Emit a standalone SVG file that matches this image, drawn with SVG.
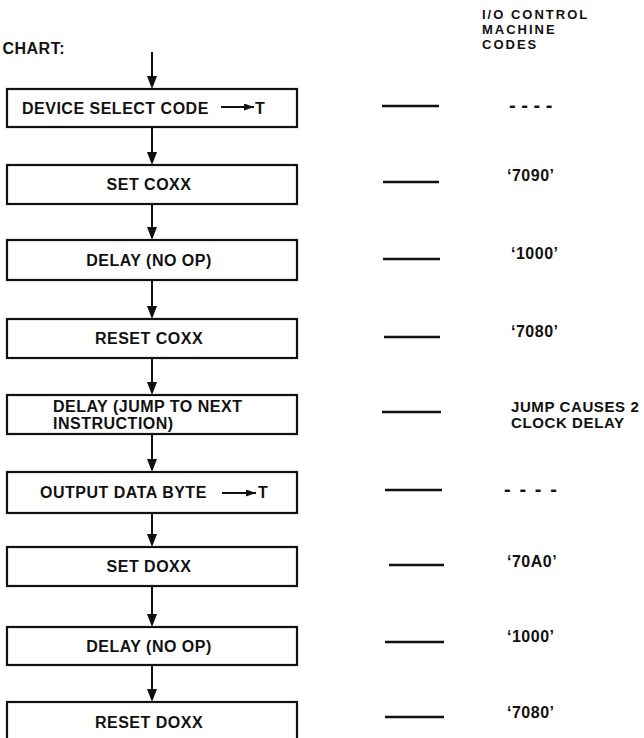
<svg xmlns="http://www.w3.org/2000/svg" width="644" height="738" viewBox="0 0 644 738">
<style>
text{font-family:"Liberation Sans",Arial,sans-serif;font-weight:bold;fill:#111}
.box{fill:#fff;stroke:#111;stroke-width:2.2}
.lbl{font-size:16px;letter-spacing:0.5px}
.c{text-anchor:middle}
.hdr{font-size:13px;letter-spacing:2px}
.code{font-size:16px;letter-spacing:0.5px}
.jmp{font-size:15px;letter-spacing:0.6px}
.dash{font-size:20px}
.conn{stroke:#111;stroke-width:2;fill:none}
.head{fill:#111}
.tick{stroke:#111;stroke-width:2.5}
</style>
<defs>
<marker id="sa" markerWidth="10" markerHeight="7" refX="10" refY="3.5" orient="auto" markerUnits="userSpaceOnUse">
<path d="M0,0 L10,3.5 L0,7 Z" fill="#111"/>
</marker>
</defs>
<text x="65" y="54" class="lbl" text-anchor="end">CHART:</text>
<g id="header">
<text x="482" y="19" class="hdr">I/O CONTROL</text>
<text x="482" y="34" class="hdr">MACHINE</text>
<text x="482" y="49" class="hdr">CODES</text>
</g>
<g id="connectors">
<path class="conn" d="M152,52 V76"/>
<path class="head" d="M147,76 L157,76 L152,89 Z"/>
<path class="conn" d="M152,127 V152"/>
<path class="head" d="M147,152 L157,152 L152,165 Z"/>
<path class="conn" d="M152,204 V227"/>
<path class="head" d="M147,227 L157,227 L152,240 Z"/>
<path class="conn" d="M152,280 V306"/>
<path class="head" d="M147,306 L157,306 L152,319 Z"/>
<path class="conn" d="M152,358 V382"/>
<path class="head" d="M147,382 L157,382 L152,395 Z"/>
<path class="conn" d="M152,434 V459"/>
<path class="head" d="M147,459 L157,459 L152,472 Z"/>
<path class="conn" d="M152,513 V534"/>
<path class="head" d="M147,534 L157,534 L152,547 Z"/>
<path class="conn" d="M152,586 V614"/>
<path class="head" d="M147,614 L157,614 L152,627 Z"/>
<path class="conn" d="M152,665 V689"/>
<path class="head" d="M147,689 L157,689 L152,702 Z"/>
</g>
<g id="n1">
<rect class="box" x="7" y="89" width="290" height="38"/>
<text x="22" y="113.5" class="lbl">DEVICE SELECT CODE</text>
<line x1="221" y1="107" x2="254" y2="107" stroke="#111" stroke-width="2" marker-end="url(#sa)"/>
<text x="255" y="113.5" class="lbl">T</text>
</g>
<g id="n2">
<rect class="box" x="7" y="165" width="290" height="39"/>
<text x="149" y="190" class="lbl c">SET COXX</text>
</g>
<g id="n3">
<rect class="box" x="7" y="240" width="290" height="40"/>
<text x="149" y="266" class="lbl c">DELAY (NO OP)</text>
</g>
<g id="n4">
<rect class="box" x="7" y="319" width="290" height="39"/>
<text x="149" y="344" class="lbl c">RESET COXX</text>
</g>
<g id="n5">
<rect class="box" x="7" y="395" width="290" height="39"/>
<text x="53" y="412" class="lbl">DELAY (JUMP TO NEXT</text>
<text x="53" y="429" class="lbl">INSTRUCTION)</text>
</g>
<g id="n6">
<rect class="box" x="7" y="472" width="290" height="41"/>
<text x="40" y="498" class="lbl">OUTPUT DATA BYTE</text>
<line x1="222" y1="493" x2="256" y2="493" stroke="#111" stroke-width="2" marker-end="url(#sa)"/>
<text x="258" y="498" class="lbl">T</text>
</g>
<g id="n7">
<rect class="box" x="7" y="547" width="290" height="39"/>
<text x="149" y="572" class="lbl c">SET DOXX</text>
</g>
<g id="n8">
<rect class="box" x="7" y="627" width="290" height="38"/>
<text x="149" y="652" class="lbl c">DELAY (NO OP)</text>
</g>
<g id="n9">
<rect class="box" x="7" y="702" width="290" height="44"/>
<text x="149" y="728" class="lbl c">RESET DOXX</text>
</g>
<g id="codes">
<line class="tick" x1="382" y1="106" x2="439" y2="106"/>
<text x="509" y="111.5" class="dash">- - - -</text>
<line class="tick" x1="383" y1="182" x2="439" y2="182"/>
<text x="507" y="181" class="code">‘7090’</text>
<line class="tick" x1="383" y1="259" x2="440" y2="259"/>
<text x="511" y="259" class="code">‘1000’</text>
<line class="tick" x1="384" y1="337" x2="440" y2="337"/>
<text x="511" y="337" class="code">‘7080’</text>
<line class="tick" x1="382" y1="412" x2="441" y2="412"/>
<text x="511" y="412" class="jmp">JUMP CAUSES 2</text>
<text x="511" y="428" class="jmp">CLOCK DELAY</text>
<line class="tick" x1="385" y1="490" x2="442" y2="490"/>
<text x="504" y="495.5" class="dash" letter-spacing="1.6">- - - -</text>
<line class="tick" x1="389" y1="565" x2="444" y2="565"/>
<text x="507" y="567" class="code">‘70A0’</text>
<line class="tick" x1="385" y1="642" x2="444" y2="642"/>
<text x="507" y="642" class="code">‘1000’</text>
<line class="tick" x1="385" y1="717" x2="444" y2="717"/>
<text x="507" y="718" class="code">‘7080’</text>
</g>
</svg>
